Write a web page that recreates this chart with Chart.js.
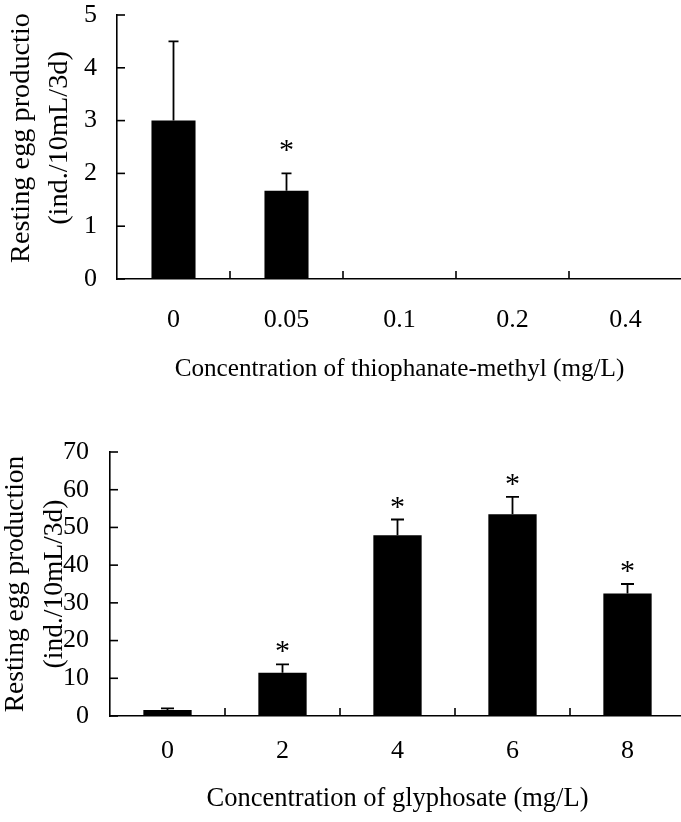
<!DOCTYPE html>
<html><head><meta charset="utf-8">
<script src="https://cdn.jsdelivr.net/npm/chart.js@4/dist/chart.umd.min.js"></script>
<style>
html,body{margin:0;padding:0;background:#fff;overflow:hidden;width:681px;height:822px;}
.wrap{position:absolute;left:0;width:681px;overflow:hidden;}
canvas{display:block;}
</style></head><body>
<div class="wrap" style="top:0;height:410px"><canvas id="c1" width="690" height="410"></canvas></div>
<div class="wrap" style="top:410px;height:412px"><canvas id="c2" width="690" height="412"></canvas></div>
<script>
// ---- Data: thiophanate-methyl ----
const tmCategories = ['0', '0.05', '0.1', '0.2', '0.4'];
const tmMeans = [3.0, 1.67, 0, 0, 0];
const tmErrors = [1.5, 0.33, 0, 0, 0];
const tmSignificant = [false, true, false, false, false];
const tmYMax = 5;
const tmYStep = 1;

// ---- Data: glyphosate ----
const glCategories = ['0', '2', '4', '6', '8'];
const glMeans = [1.6, 11.5, 47.9, 53.5, 32.5];
const glErrors = [0.4, 2.2, 4.2, 4.6, 2.5];
const glSignificant = [false, true, true, true, true];
const glYMax = 70;
const glYStep = 10;

const FONT = "'Liberation Serif', 'Times New Roman', serif";

function decorPlugin(errors, sig, capHalf, starGap) {
  return {
    id: 'decor',
    afterDatasetsDraw(chart) {
      const ctx = chart.ctx, xs = chart.scales.x, ys = chart.scales.y;
      const area = chart.chartArea;
      const meta = chart.getDatasetMeta(0);
      const vals = chart.data.datasets[0].data;
      ctx.save();
      ctx.strokeStyle = '#000';
      ctx.fillStyle = '#000';
      ctx.lineWidth = 1.6;
      // inward y ticks
      ys.ticks.forEach(t => {
        const y = ys.getPixelForValue(t.value);
        ctx.beginPath(); ctx.moveTo(area.left, y); ctx.lineTo(area.left + 8, y); ctx.stroke();
      });
      // x category boundary ticks
      const n = vals.length;
      for (let i = 1; i <= n; i++) {
        let x;
        if (i < n) x = (xs.getPixelForValue(i - 1) + xs.getPixelForValue(i)) / 2;
        else x = xs.getPixelForValue(n - 1) + (xs.getPixelForValue(n - 1) - xs.getPixelForValue(n - 2)) / 2;
        ctx.beginPath(); ctx.moveTo(x, area.bottom); ctx.lineTo(x, area.bottom - 8); ctx.stroke();
      }
      // error bars and significance marks
      ctx.lineWidth = 1.8;
      meta.data.forEach((bar, i) => {
        const e = errors[i];
        const yTop = ys.getPixelForValue(vals[i] + e);
        if (e > 0) {
          ctx.beginPath();
          ctx.moveTo(bar.x, bar.y); ctx.lineTo(bar.x, yTop);
          ctx.moveTo(bar.x - capHalf, yTop); ctx.lineTo(bar.x + capHalf, yTop);
          ctx.stroke();
        }
        if (sig[i]) {
          ctx.font = '30px ' + FONT;
          ctx.textAlign = 'center';
          ctx.textBaseline = 'alphabetic';
          ctx.fillText('*', bar.x, yTop - starGap + 14);
        }
      });
      ctx.restore();
    }
  };
}

function makeChart(id, cats, means, errors, sig, o) {
  return new Chart(document.getElementById(id), {
    type: 'bar',
    data: {
      labels: cats,
      datasets: [{ data: means, backgroundColor: '#000', borderWidth: 0,
                   barPercentage: o.barPct, categoryPercentage: 1 }]
    },
    options: {
      responsive: false, animation: false, devicePixelRatio: 1,
      layout: { padding: { left: 0, right: o.padRight, top: o.padTop, bottom: 0 } },
      plugins: { legend: { display: false }, tooltip: { enabled: false } },
      scales: {
        x: {
          grid: { display: false, drawTicks: false },
          border: { display: true, color: '#000', width: 1.6 },
          ticks: { color: '#000', font: { family: FONT, size: 26 }, padding: o.xPad,
                   maxRotation: 0, autoSkip: false },
          title: { display: true, text: o.xTitle, color: '#000',
                   font: { family: FONT, size: o.xTitleSize }, padding: { top: 0, bottom: o.xTitlePad } },
          afterFit(s) { s.height = o.xHeight; }
        },
        y: {
          min: 0, max: o.max,
          ticks: { stepSize: o.step, color: '#000', font: { family: FONT, size: 26, lineHeight: 1 },
                   padding: 0 },
          grid: { display: true, color: 'rgba(0,0,0,0)', drawOnChartArea: false,
                  drawTicks: true, tickLength: o.yPad },
          border: { display: true, color: '#000', width: 1.6 },
          title: { display: true, text: o.yTitle, color: '#000',
                   font: { family: FONT, size: o.yTitleSize, lineHeight: o.yLH },
                   padding: { top: o.yTitlePad, bottom: 0 } },
          afterFit(s) {
            s.width = o.yWidth;
            if (o.yTitleShift && !s._shiftWrapped) {
              const orig = s.drawTitle;
              s.drawTitle = function () {
                this.ctx.save();
                this.ctx.translate(0, o.yTitleShift);
                orig.apply(this, arguments);
                this.ctx.restore();
              };
              s._shiftWrapped = true;
            }
          }
        }
      }
    },
    plugins: [decorPlugin(errors, sig, o.capHalf, o.starGap)]
  });
}

makeChart('c1', tmCategories, tmMeans, tmErrors, tmSignificant, {
  barPct: 0.39, padRight: 8, padTop: 15, xPad: 26, xTitlePad: 25, xHeight: 131,
  xTitle: 'Concentration of thiophanate-methyl (mg/L)', xTitleSize: 25.2,
  max: tmYMax, step: tmYStep, yPad: 20, yWidth: 117,
  yTitle: ['Resting egg productio', '(ind./10mL/3d)'], yTitleSize: 28.3, yLH: '38px', yTitlePad: 3,
  yTitleShift: -9,
  capHalf: 5, starGap: 28
});

makeChart('c2', glCategories, glMeans, glErrors, glSignificant, {
  barPct: 0.42, padRight: 5, padTop: 42, xPad: 20, xTitlePad: 7, xHeight: 106,
  xTitle: 'Concentration of glyphosate (mg/L)', xTitleSize: 26.5,
  max: glYMax, step: glYStep, yPad: 21, yWidth: 110,
  yTitle: ['Resting egg production', '(ind./10mL/3d)'], yTitleSize: 27.5, yLH: '39px', yTitlePad: -4,
  yTitleShift: 0,
  capHalf: 6.5, starGap: 18
});
</script>
</body></html>
